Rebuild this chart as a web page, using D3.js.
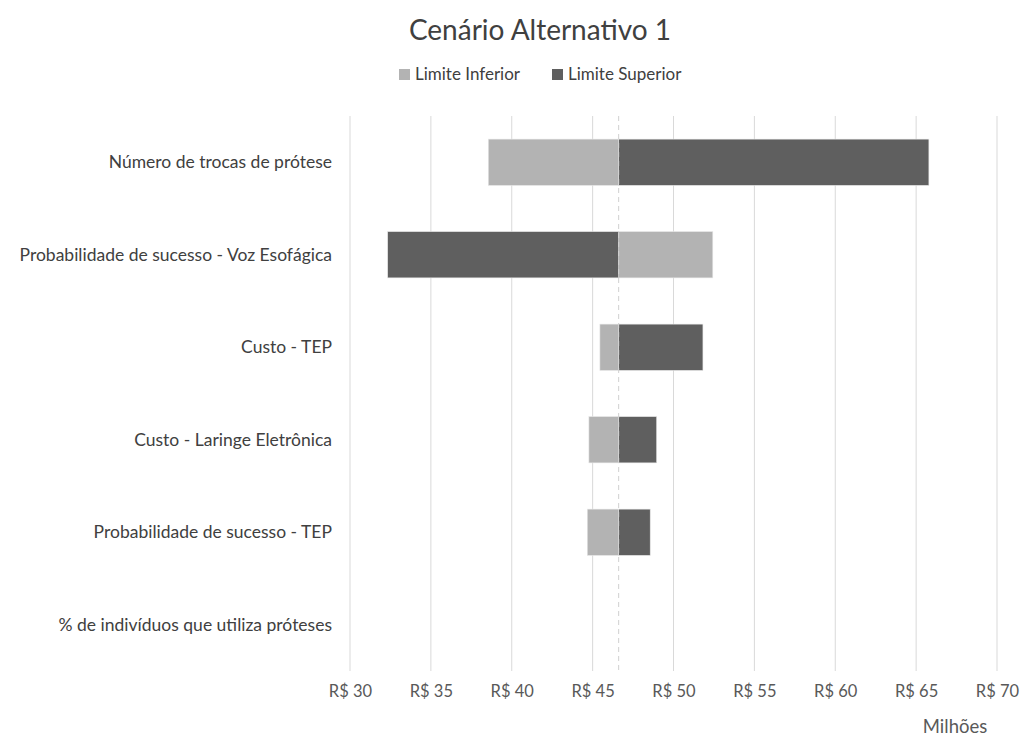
<!DOCTYPE html>
<html>
<meta charset="utf-8">
<style>
body {
	margin: 0;
	background: #fff;
}

svg, svg text, .axis {
	font-family: Lato, "Open Sans", sans-serif;
}

.grid line {
	stroke: #d9d9d9;
	stroke-width: 1;
}

.axis text {
	fill: #595959;
	font-size: 16.5px;
}

.cat text {
	fill: #404040;
	font-size: 17.5px;
}
</style>

<body>
<svg id="tornado" width="1024" height="740"></svg>

<script src="https://d3js.org/d3.v7.min.js"></script>

<script>
// valores em milhões de R$
var categorias = [
	"Número de trocas de prótese",
	"Probabilidade de sucesso - Voz Esofágica",
	"Custo - TEP",
	"Custo - Laringe Eletrônica",
	"Probabilidade de sucesso - TEP",
	"% de indivíduos que utiliza próteses"
];
var limiteInferior = [38.55, 52.43, 45.45, 44.77, 44.67, 46.61];
var limiteSuperior = [65.79, 32.33, 51.82, 48.96, 48.56, 46.61];
var caso_base = 46.61;
var ticks = [30, 35, 40, 45, 50, 55, 60, 65, 70];

var margin = {top: 116, left: 350, right: 27, bottom: 69};
var width = 1024 - margin.left - margin.right;
var height = 740 - margin.top - margin.bottom;

var svg = d3.select("#tornado");

svg.append("text")
	.attr("x", 540)
	.attr("y", 40)
	.attr("text-anchor", "middle")
	.attr("fill", "#404040")
	.style("font-size", "28px")
	.text("Cenário Alternativo 1");

var g = svg.append("g")
	.attr("transform", "translate(" + margin.left + "," + margin.top + ")");

var x = d3.scaleLinear()
	.domain([30, 70])
	.range([0, width]);

var y = d3.scaleBand()
	.domain(categorias)
	.range([0, height])
	.paddingInner(0.5)
	.paddingOuter(0.25);

// linhas de grade
g.append("g")
	.attr("class", "grid")
	.selectAll("line")
	.data(ticks)
	.enter().append("line")
	.attr("x1", function(d) { return x(d); })
	.attr("x2", function(d) { return x(d); })
	.attr("y1", 0)
	.attr("y2", height);

var serie = [
	{nome: "Limite Inferior", valores: limiteInferior, cor: "#b3b3b3"},
	{nome: "Limite Superior", valores: limiteSuperior, cor: "#5f5f5f"}
];

serie.forEach(function(s) {
	g.append("g")
		.selectAll("rect")
		.data(categorias.map(function(c, i) { return {cat: c, v: s.valores[i]}; }))
		.enter().append("rect")
		.attr("x", function(d) { return x(Math.min(d.v, caso_base)); })
		.attr("width", function(d) { return Math.abs(x(d.v) - x(caso_base)); })
		.attr("y", function(d) { return y(d.cat); })
		.attr("height", y.bandwidth())
		.attr("fill", s.cor)
		.attr("stroke", "#e6e6e6")
		.attr("stroke-width", function(d) { return d.v == caso_base ? 0 : 0.6; });
});

// linha do caso base
g.append("line")
	.attr("x1", x(caso_base))
	.attr("x2", x(caso_base))
	.attr("y1", 0)
	.attr("y2", height)
	.attr("stroke", "#d0d0d0")
	.attr("stroke-width", 1)
	.attr("stroke-dasharray", "5,4");

// rótulos das categorias
g.append("g")
	.attr("class", "cat")
	.selectAll("text")
	.data(categorias)
	.enter().append("text")
	.attr("x", -18)
	.attr("y", function(d) { return y(d) + y.bandwidth() / 2; })
	.attr("dy", "0.35em")
	.attr("text-anchor", "end")
	.text(function(d) { return d; });

// eixo x
var eixo = g.append("g")
	.attr("class", "axis")
	.attr("transform", "translate(0," + height + ")")
	.call(d3.axisBottom(x)
		.tickValues(ticks)
		.tickSize(0)
		.tickPadding(14)
		.tickFormat(function(d) { return "R$ " + d; }));
eixo.attr("font-family", null).attr("font-size", null);
eixo.select(".domain").remove();

svg.append("text")
	.attr("x", 955)
	.attr("y", 733)
	.attr("text-anchor", "middle")
	.attr("fill", "#595959")
	.style("font-size", "18.5px")
	.text("Milhões");

// legenda
var legenda = svg.append("g")
	.attr("transform", "translate(399,69)");

var leg = legenda.selectAll("g")
	.data(serie)
	.enter().append("g")
	.attr("transform", function(d, i) { return "translate(" + (i * 153) + ",0)"; });

leg.append("rect")
	.attr("width", 11)
	.attr("height", 11)
	.attr("fill", function(d) { return d.cor; });

leg.append("text")
	.attr("x", 16)
	.attr("y", 5.5)
	.attr("dy", "0.35em")
	.attr("fill", "#404040")
	.style("font-size", "17px")
	.text(function(d) { return d.nome; });
</script>
</body>
</html>
